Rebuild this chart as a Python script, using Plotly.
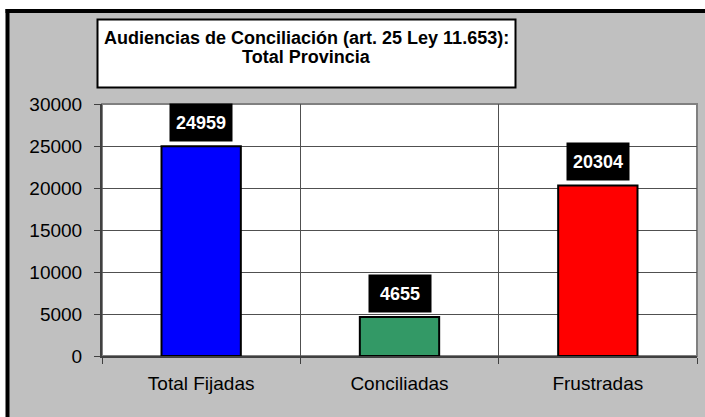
import plotly.graph_objects as go

categories = ["Total Fijadas", "Conciliadas", "Frustradas"]
values = [24959, 4655, 20304]
bar_colors = ["#0000FF", "#339966", "#FF0000"]
y_ticks = [0, 5000, 10000, 15000, 20000, 25000, 30000]
y_tick_labels = ["0", "5000", "10000", "15000", "20000", "25000", "30000"]
title_lines = ["Audiencias de Conciliación (art. 25 Ley 11.653):", "Total Provincia"]

W, H = 705, 417
ML, MR, MT, MB = 102, 8, 104, 61
PW, PH = W - ML - MR, H - MT - MB

def px_x(p):
    return (p - ML) / PW

def px_y(p):
    return (H - MB - p) / PH

FONT = "Liberation Sans, Arial, sans-serif"

fig = go.Figure()
fig.add_trace(go.Bar(
    x=categories, y=values,
    marker=dict(color=bar_colors, line=dict(color="black", width=2)),
    hoverinfo="skip",
))

shapes = [
    # gray chart area
    dict(type="rect", xref="paper", yref="paper", layer="below",
         x0=px_x(7.5), x1=px_x(W), y0=px_y(11), y1=px_y(H),
         fillcolor="#C0C0C0", line=dict(color="rgba(0,0,0,0)", width=0)),
    # thick black top and left borders
    dict(type="line", xref="paper", yref="paper", layer="below",
         x0=px_x(5.5), x1=px_x(W), y0=px_y(11), y1=px_y(11),
         line=dict(color="black", width=4)),
    dict(type="line", xref="paper", yref="paper", layer="below",
         x0=px_x(7.5), x1=px_x(7.5), y0=px_y(9), y1=px_y(H),
         line=dict(color="black", width=4)),
    # plot area
    dict(type="rect", xref="paper", yref="paper", layer="below",
         x0=0, x1=1, y0=0, y1=1,
         fillcolor="white", line=dict(color="#808080", width=2)),
    # title box
    dict(type="rect", xref="paper", yref="paper", layer="above",
         x0=px_x(97.5), x1=px_x(515.5), y0=px_y(19.5), y1=px_y(87.5),
         fillcolor="white", line=dict(color="black", width=2)),
]

annotations = []
for i, line in enumerate(title_lines):
    annotations.append(dict(
        xref="paper", yref="paper", x=px_x(306.5), y=px_y(37.5 + 19.5 * i),
        xanchor="center", yanchor="middle", showarrow=False,
        text="<b>" + line + "</b>",
        font=dict(family=FONT, size=18, color="black"),
    ))

for c, v in zip(categories, values):
    annotations.append(dict(
        x=c, y=v, xref="x", yref="y", xanchor="center", yanchor="bottom",
        yshift=4, showarrow=False, text="<b>%d</b>" % v,
        font=dict(family=FONT, size=18, color="white"),
        bgcolor="black", borderpad=3, width=56, height=31,
    ))

fig.update_layout(
    width=W, height=H,
    margin=dict(l=ML, r=MR, t=MT, b=MB, pad=0),
    paper_bgcolor="white",
    plot_bgcolor="rgba(0,0,0,0)",
    showlegend=False,
    bargap=0.6,
    shapes=shapes,
    annotations=annotations,
    font=dict(family=FONT, size=19, color="black"),
    xaxis=dict(
        tickson="boundaries", showgrid=True, gridcolor="#505050", gridwidth=1,
        ticks="outside", ticklen=6, tickcolor="#404040", tickwidth=1,
        showline=True, linecolor="#404040", linewidth=2,
        tickfont=dict(family=FONT, size=19, color="black"),
        ticklabelstandoff=9,
        fixedrange=True,
    ),
    yaxis=dict(
        range=[0, 30000], tickvals=y_ticks, ticktext=y_tick_labels,
        showgrid=True, gridcolor="#505050", gridwidth=1,
        ticks="outside", ticklen=6, tickcolor="#404040", tickwidth=1,
        showline=True, linecolor="#404040", linewidth=2,
        tickfont=dict(family=FONT, size=19, color="black"),
        ticklabelstandoff=8, zeroline=False,
        fixedrange=True,
    ),
)

fig.write_html(
    "out.html",
    config={"displayModeBar": False},
    post_script="document.body.style.margin='0';document.body.style.overflow='hidden';",
)
